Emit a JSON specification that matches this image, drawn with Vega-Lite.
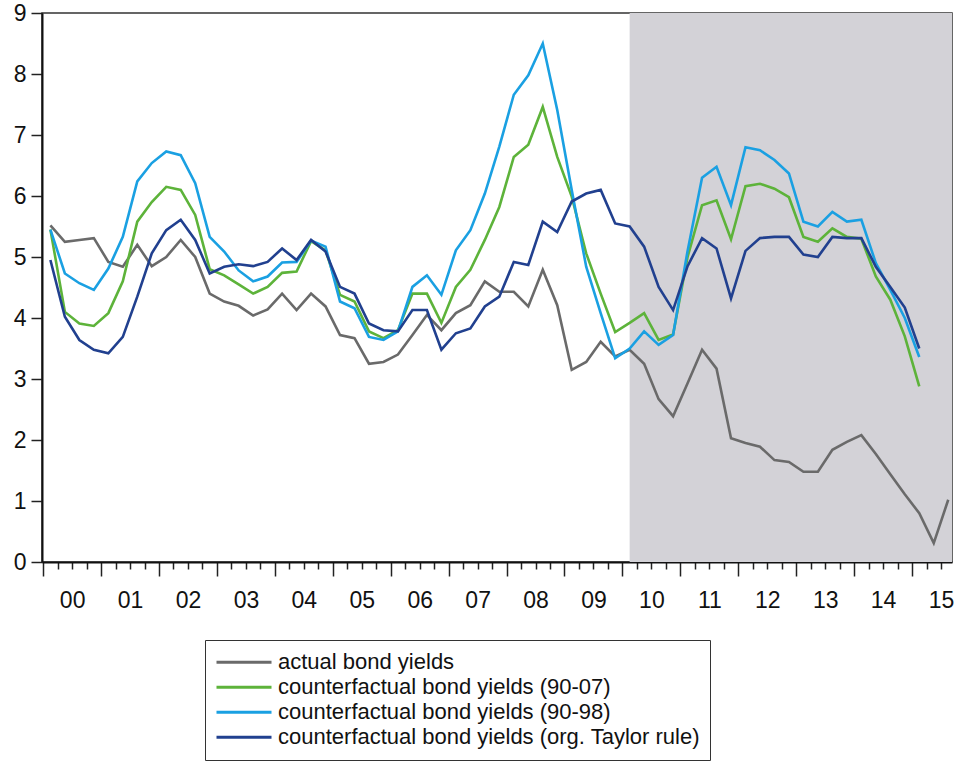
{
 "$schema": "https://vega.github.io/schema/vega-lite/v6.json",
 "width": 910,
 "height": 549,
 "autosize": {"type": "none"},
 "padding": {"left": 42, "top": 13, "right": 5, "bottom": 207},
 "background": "white",
 "config": {"view": {"stroke": "#333", "strokeWidth": 1.5}, "font": "Liberation Sans"},
 "layer": [
  {
   "data": {"values": [{"from": 2010.125, "to": 2015.69}]},
   "mark": {"type": "rect", "color": "#d3d2d7"},
   "encoding": {
    "x": {"field": "from", "type": "quantitative",
     "scale": {"domain": [1999.98, 2015.69], "nice": false, "zero": false},
     "axis": {"orient": "bottom", "title": null, "labels": false, "domain": false, "grid": false,
      "tickSize": 7, "tickWidth": 1.5, "tickColor": "#222",
      "values": [2000.25,2000.5,2000.75,2001.25,2001.5,2001.75,2002.25,2002.5,2002.75,2003.25,2003.5,2003.75,2004.25,2004.5,2004.75,2005.25,2005.5,2005.75,2006.25,2006.5,2006.75,2007.25,2007.5,2007.75,2008.25,2008.5,2008.75,2009.25,2009.5,2009.75,2010.25,2010.5,2010.75,2011.25,2011.5,2011.75,2012.25,2012.5,2012.75,2013.25,2013.5,2013.75,2014.25,2014.5,2014.75,2015.25,2015.5]}},
    "x2": {"field": "to"}
   }
  },
  {
   "data": {"values": [
    {"t":2000.125,"a":5.52,"g":5.45,"b":5.45,"d":4.95},
    {"t":2000.375,"a":5.25,"g":4.1,"b":4.73,"d":4.02},
    {"t":2000.625,"a":5.28,"g":3.91,"b":4.57,"d":3.64},
    {"t":2000.875,"a":5.31,"g":3.87,"b":4.46,"d":3.48},
    {"t":2001.125,"a":4.92,"g":4.08,"b":4.81,"d":3.42},
    {"t":2001.375,"a":4.84,"g":4.6,"b":5.33,"d":3.69},
    {"t":2001.625,"a":5.2,"g":5.58,"b":6.24,"d":4.35},
    {"t":2001.875,"a":4.85,"g":5.9,"b":6.54,"d":5.06},
    {"t":2002.125,"a":5.0,"g":6.15,"b":6.73,"d":5.44},
    {"t":2002.375,"a":5.28,"g":6.1,"b":6.67,"d":5.61},
    {"t":2002.625,"a":5.0,"g":5.69,"b":6.21,"d":5.28},
    {"t":2002.875,"a":4.4,"g":4.8,"b":5.33,"d":4.73},
    {"t":2003.125,"a":4.27,"g":4.7,"b":5.09,"d":4.84},
    {"t":2003.375,"a":4.2,"g":4.55,"b":4.78,"d":4.88},
    {"t":2003.625,"a":4.04,"g":4.4,"b":4.6,"d":4.85},
    {"t":2003.875,"a":4.14,"g":4.51,"b":4.68,"d":4.92},
    {"t":2004.125,"a":4.4,"g":4.74,"b":4.91,"d":5.14},
    {"t":2004.375,"a":4.13,"g":4.76,"b":4.92,"d":4.95},
    {"t":2004.625,"a":4.4,"g":5.26,"b":5.27,"d":5.28},
    {"t":2004.875,"a":4.19,"g":5.11,"b":5.17,"d":5.09},
    {"t":2005.125,"a":3.72,"g":4.38,"b":4.27,"d":4.51},
    {"t":2005.375,"a":3.67,"g":4.27,"b":4.16,"d":4.4},
    {"t":2005.625,"a":3.25,"g":3.78,"b":3.69,"d":3.91},
    {"t":2005.875,"a":3.28,"g":3.67,"b":3.64,"d":3.8},
    {"t":2006.125,"a":3.4,"g":3.8,"b":3.78,"d":3.78},
    {"t":2006.375,"a":3.72,"g":4.4,"b":4.51,"d":4.13},
    {"t":2006.625,"a":4.05,"g":4.4,"b":4.7,"d":4.13},
    {"t":2006.875,"a":3.8,"g":3.92,"b":4.38,"d":3.48},
    {"t":2007.125,"a":4.08,"g":4.51,"b":5.11,"d":3.75},
    {"t":2007.375,"a":4.21,"g":4.79,"b":5.44,"d":3.83},
    {"t":2007.625,"a":4.6,"g":5.28,"b":6.04,"d":4.19},
    {"t":2007.875,"a":4.43,"g":5.82,"b":6.81,"d":4.35},
    {"t":2008.125,"a":4.43,"g":6.64,"b":7.66,"d":4.92},
    {"t":2008.375,"a":4.19,"g":6.84,"b":7.98,"d":4.87},
    {"t":2008.625,"a":4.79,"g":7.46,"b":8.5,"d":5.58},
    {"t":2008.875,"a":4.21,"g":6.64,"b":7.41,"d":5.41},
    {"t":2009.125,"a":3.15,"g":5.99,"b":6.1,"d":5.91},
    {"t":2009.375,"a":3.28,"g":5.06,"b":4.84,"d":6.04},
    {"t":2009.625,"a":3.61,"g":4.4,"b":4.08,"d":6.1},
    {"t":2009.875,"a":3.37,"g":3.77,"b":3.34,"d":5.55},
    {"t":2010.125,"a":3.48,"g":3.92,"b":3.5,"d":5.5},
    {"t":2010.375,"a":3.25,"g":4.08,"b":3.78,"d":5.17},
    {"t":2010.625,"a":2.67,"g":3.64,"b":3.56,"d":4.51},
    {"t":2010.875,"a":2.39,"g":3.73,"b":3.72,"d":4.13},
    {"t":2011.125,"a":2.93,"g":5.0,"b":5.1,"d":4.85},
    {"t":2011.375,"a":3.48,"g":5.85,"b":6.3,"d":5.31},
    {"t":2011.625,"a":3.17,"g":5.93,"b":6.48,"d":5.14},
    {"t":2011.875,"a":2.03,"g":5.29,"b":5.85,"d":4.32},
    {"t":2012.125,"a":1.95,"g":6.16,"b":6.8,"d":5.1},
    {"t":2012.375,"a":1.89,"g":6.2,"b":6.75,"d":5.31},
    {"t":2012.625,"a":1.67,"g":6.12,"b":6.59,"d":5.33},
    {"t":2012.875,"a":1.64,"g":5.98,"b":6.37,"d":5.33},
    {"t":2013.125,"a":1.48,"g":5.33,"b":5.58,"d":5.04},
    {"t":2013.375,"a":1.48,"g":5.25,"b":5.5,"d":5.0},
    {"t":2013.625,"a":1.84,"g":5.47,"b":5.74,"d":5.33},
    {"t":2013.875,"a":1.97,"g":5.33,"b":5.58,"d":5.31},
    {"t":2014.125,"a":2.08,"g":5.3,"b":5.61,"d":5.31},
    {"t":2014.375,"a":1.77,"g":4.68,"b":4.9,"d":4.84},
    {"t":2014.625,"a":1.44,"g":4.3,"b":4.46,"d":4.51},
    {"t":2014.875,"a":1.11,"g":3.7,"b":4.0,"d":4.17},
    {"t":2015.125,"a":0.8,"g":2.88,"b":3.36,"d":3.5},
    {"t":2015.375,"a":0.31},
    {"t":2015.625,"a":1.02}
   ]},
   "transform": [{"fold": ["a", "g", "b", "d"], "as": ["s", "v"]}],
   "mark": {"type": "line", "strokeWidth": 2.6},
   "encoding": {
    "x": {"field": "t", "type": "quantitative",
     "scale": {"domain": [1999.98, 2015.69], "nice": false, "zero": false},
     "axis": {"orient": "bottom", "title": null, "grid": false,
      "values": [2000,2001,2002,2003,2004,2005,2006,2007,2008,2009,2010,2011,2012,2013,2014,2015],
      "labelExpr": "substring(toString(datum.value), 2, 4)",
      "labelOffset": 29, "labelFlush": false, "labelOverlap": false,
      "labelFontSize": 23, "labelColor": "#111", "labelPadding": 13,
      "tickSize": 14, "tickWidth": 1.5, "tickColor": "#222",
      "domainColor": "#111", "domainWidth": 2}},
    "y": {"field": "v", "type": "quantitative",
     "scale": {"domain": [0, 9], "nice": false, "zero": true},
     "axis": {"title": null, "grid": false, "values": [0,1,2,3,4,5,6,7,8,9],
      "labelFontSize": 23, "labelColor": "#111", "labelPadding": 5,
      "tickSize": 11, "tickWidth": 1.5, "tickColor": "#222",
      "domainColor": "#111", "domainWidth": 2}},
    "color": {"field": "s", "type": "nominal",
     "scale": {"domain": ["a", "g", "b", "d"], "range": ["#6a6a6a", "#5db33a", "#1aa0e2", "#21408f"]},
     "legend": {"orient": "none", "legendX": 163, "legendY": 627, "title": null,
      "symbolType": "stroke", "symbolSize": 3025, "symbolStrokeWidth": 3,
      "clipHeight": 24.5, "rowPadding": 0, "padding": 10,
      "labelFontSize": 22, "labelFont": "Liberation Sans", "labelColor": "#111", "labelOffset": 5, "labelLimit": 700,
      "strokeColor": "#333",
      "labelExpr": "datum.value == 'a' ? 'actual bond yields' : datum.value == 'g' ? 'counterfactual bond yields (90-07)' : datum.value == 'b' ? 'counterfactual bond yields (90-98)' : 'counterfactual bond yields (org. Taylor rule)'"}}
   }
  }
 ],
 "resolve": {"axis": {"x": "independent"}}
}
